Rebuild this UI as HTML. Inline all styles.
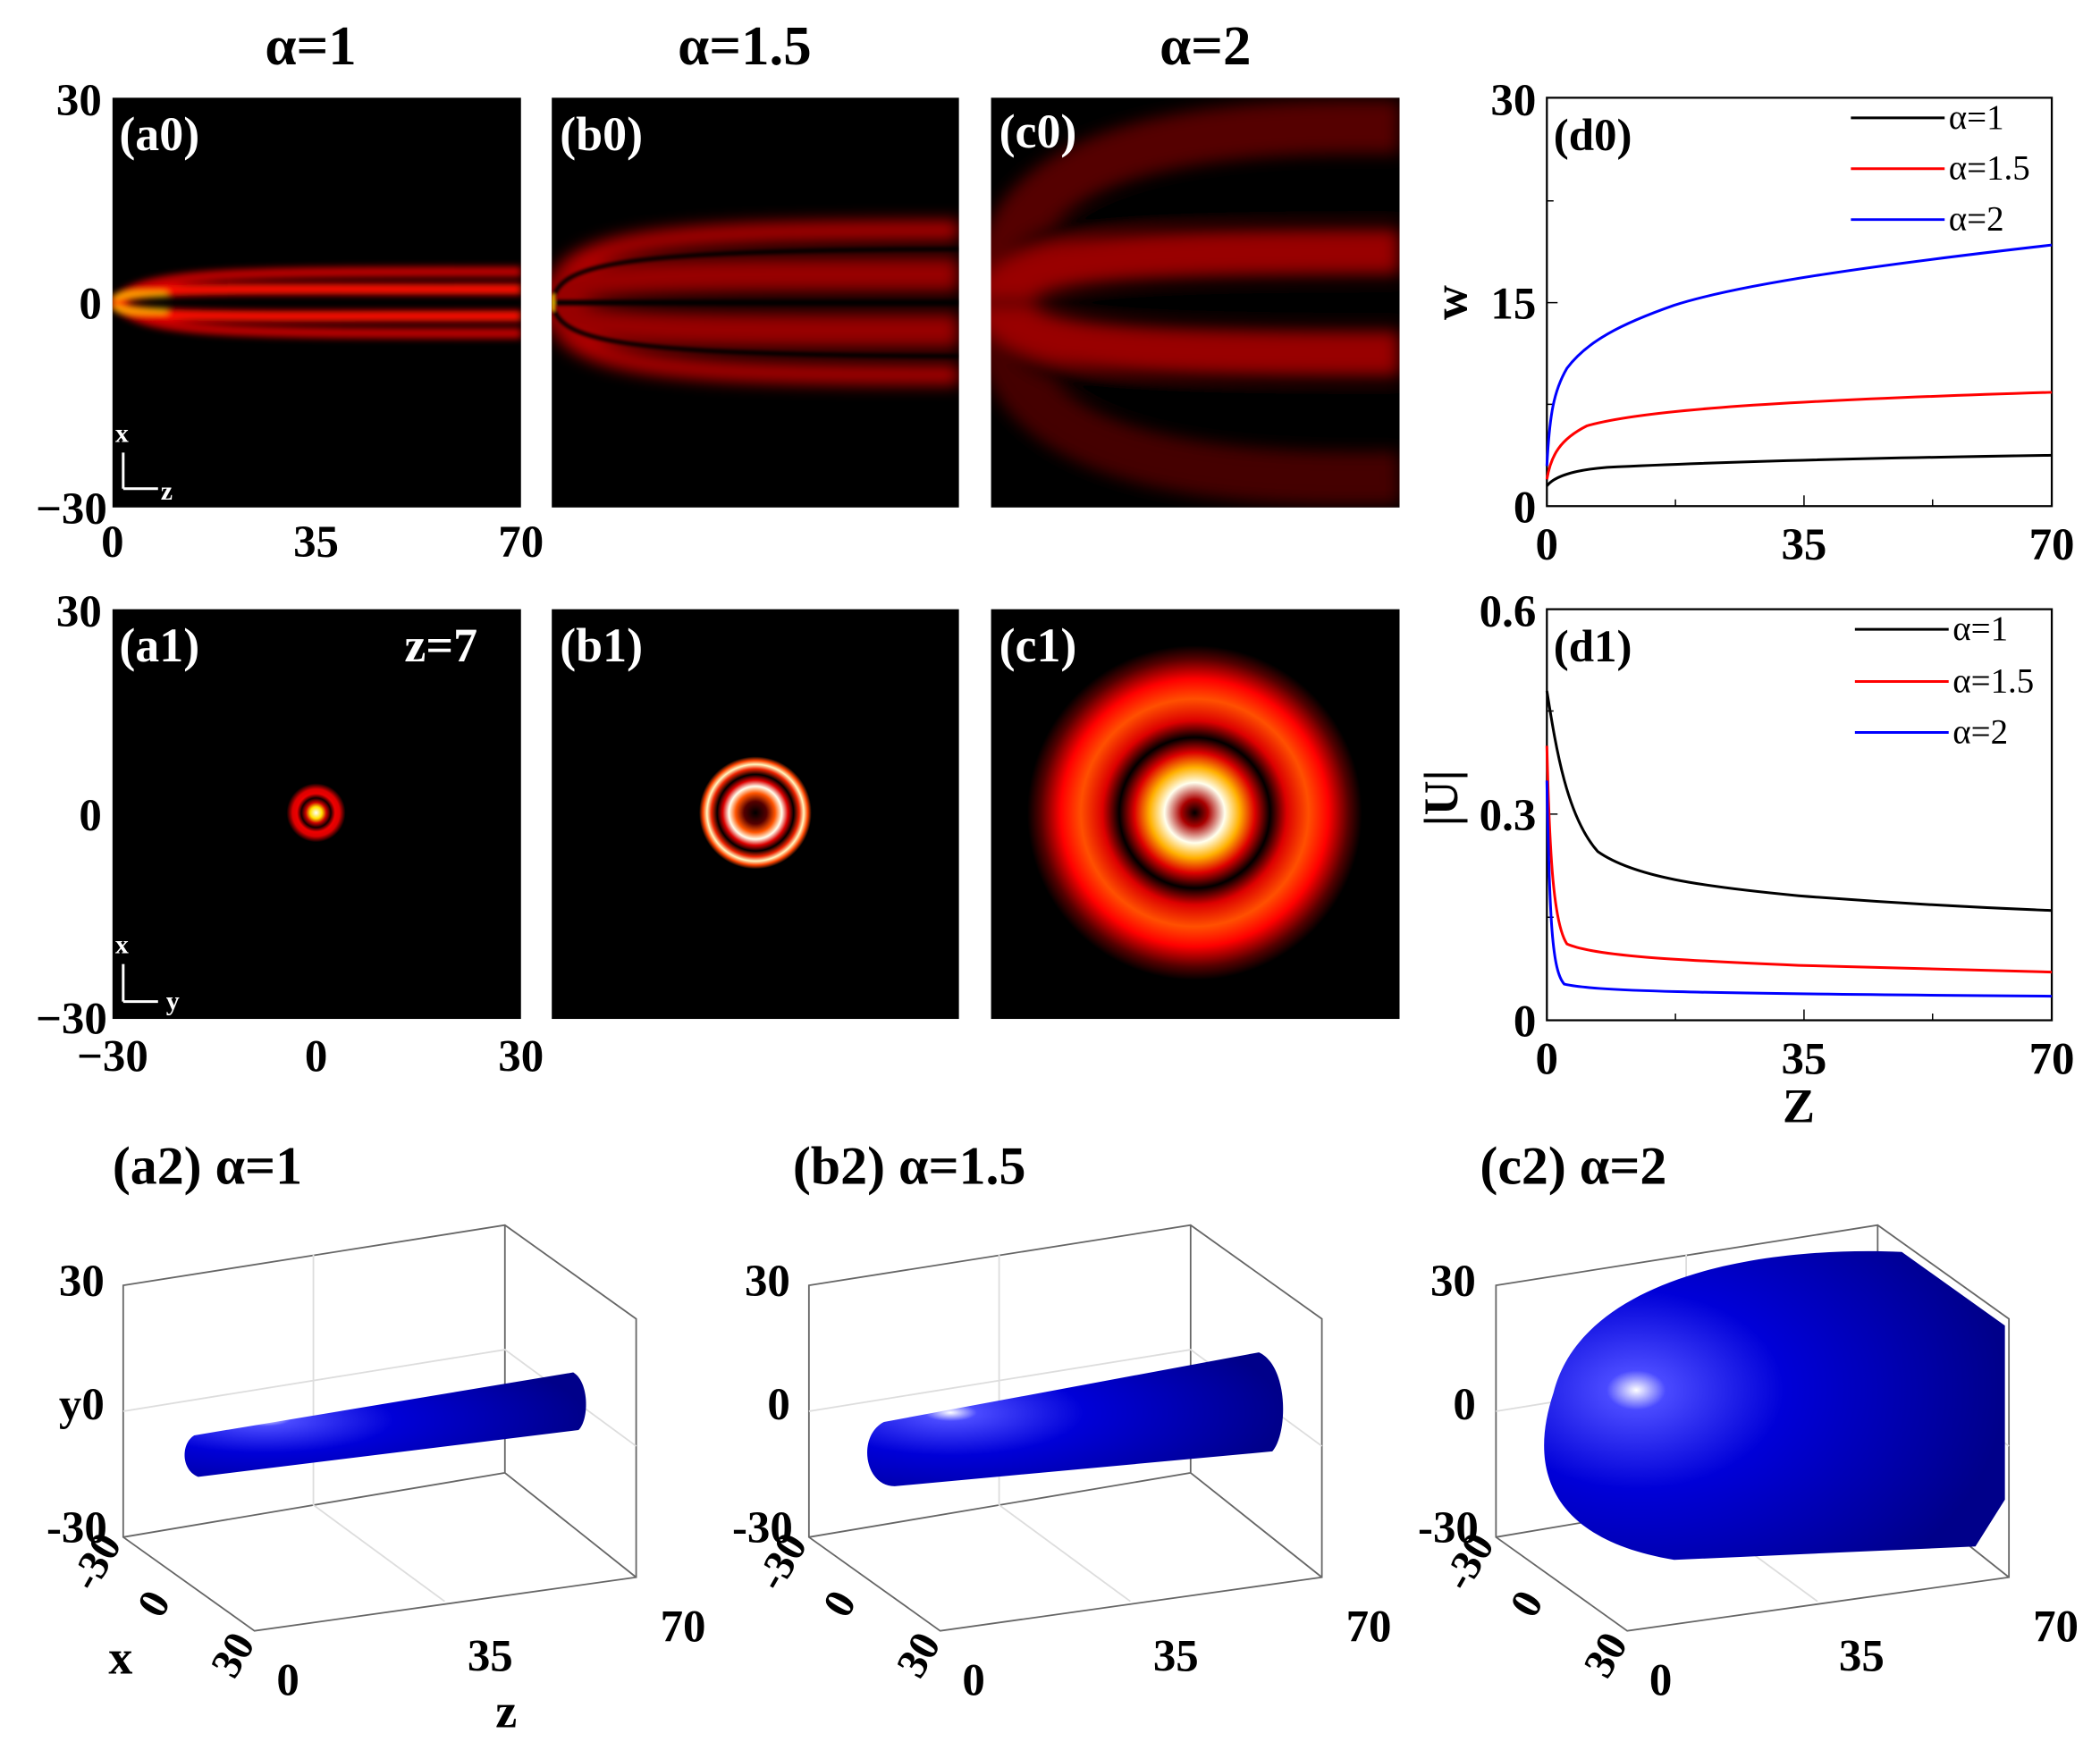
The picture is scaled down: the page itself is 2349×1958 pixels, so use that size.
<!DOCTYPE html>
<html><head><meta charset="utf-8"><style>
html,body{margin:0;padding:0;background:#fff;}
svg{display:block;}
text{font-family:"Liberation Serif",serif;font-weight:bold;}
</style></head><body>
<svg width="2349" height="1958" viewBox="0 0 1568 1307" xmlns="http://www.w3.org/2000/svg">
<defs>
<filter id="bl" x="-20%" y="-20%" width="140%" height="140%"><feGaussianBlur stdDeviation="2.5"/></filter>
<filter id="bl2" x="-20%" y="-20%" width="140%" height="140%"><feGaussianBlur stdDeviation="6"/></filter>
<filter id="bl3" x="-20%" y="-20%" width="140%" height="140%"><feGaussianBlur stdDeviation="1.2"/></filter>
<clipPath id="ca"><rect x="84" y="73" width="305" height="306"/></clipPath>
<clipPath id="cb"><rect x="412" y="73" width="304" height="306"/></clipPath>
<clipPath id="cc"><rect x="740" y="73" width="305" height="306"/></clipPath>
<radialGradient id="ra" cx="236" cy="607" r="22" gradientUnits="userSpaceOnUse">
<stop offset="0" stop-color="#fff"/><stop offset="0.2" stop-color="#ffe000"/><stop offset="0.35" stop-color="#c00"/><stop offset="0.5" stop-color="#100"/><stop offset="0.65" stop-color="#e00"/><stop offset="0.8" stop-color="#d00"/><stop offset="1" stop-color="#000"/></radialGradient>
<radialGradient id="rb" cx="564" cy="607" r="42" gradientUnits="userSpaceOnUse">
<stop offset="0" stop-color="#000"/><stop offset="0.2" stop-color="#500"/><stop offset="0.35" stop-color="#f50"/><stop offset="0.47" stop-color="#ffe"/><stop offset="0.58" stop-color="#d00"/><stop offset="0.68" stop-color="#000"/><stop offset="0.78" stop-color="#e20"/><stop offset="0.86" stop-color="#fff8c0"/><stop offset="0.93" stop-color="#f40"/><stop offset="1" stop-color="#000"/></radialGradient>
<radialGradient id="rc" cx="892" cy="607" r="125" gradientUnits="userSpaceOnUse">
<stop offset="0" stop-color="#000"/><stop offset="0.08" stop-color="#a00"/><stop offset="0.18" stop-color="#ffe"/><stop offset="0.27" stop-color="#ffb000"/><stop offset="0.36" stop-color="#d00"/><stop offset="0.45" stop-color="#000"/><stop offset="0.55" stop-color="#d00"/><stop offset="0.68" stop-color="#ff5000"/><stop offset="0.8" stop-color="#f00"/><stop offset="0.92" stop-color="#500"/><stop offset="1" stop-color="#000"/></radialGradient>
<radialGradient id="blu" cx="0.2" cy="0.45" r="0.8"><stop offset="0" stop-color="#fff"/><stop offset="0.08" stop-color="#4a4aff"/><stop offset="0.4" stop-color="#0000d8"/><stop offset="1" stop-color="#00008a"/></radialGradient>
</defs>

<text x="232" y="48" font-size="42" text-anchor="middle">α=1</text>
<text x="556" y="48" font-size="42" text-anchor="middle">α=1.5</text>
<text x="900" y="48" font-size="42" text-anchor="middle">α=2</text>

<!-- a0 -->
<rect x="84" y="73" width="305" height="306" fill="#000"/>
<g clip-path="url(#ca)" filter="url(#bl)" fill="none">
<path d="M84,226 C110,204 150,203 389,203" stroke="#b00" stroke-width="8"/>
<path d="M84,226 C110,248 150,249 389,249" stroke="#b00" stroke-width="8"/>
<path d="M84,226 C100,214 140,216 389,216" stroke="#f10" stroke-width="8"/>
<path d="M84,226 C100,238 140,236 389,236" stroke="#f10" stroke-width="8"/>
<path d="M85,223 C92,220 100,219 125,220" stroke="#fc0" stroke-width="3"/>
<path d="M85,229 C92,232 100,233 125,232" stroke="#fc0" stroke-width="3"/>
</g>
<!-- b0 -->
<rect x="412" y="73" width="304" height="306" fill="#000"/>
<g clip-path="url(#cb)" filter="url(#bl2)" fill="none">
<path d="M412,226 C420,180 470,172 716,172" stroke="#b00" stroke-width="14"/>
<path d="M412,226 C420,272 470,280 716,280" stroke="#b00" stroke-width="14"/>
<path d="M412,226 C420,205 470,205 716,205" stroke="#900" stroke-width="26"/>
<path d="M412,226 C420,247 470,247 716,247" stroke="#900" stroke-width="26"/>
</g>
<g clip-path="url(#cb)" fill="none" filter="url(#bl3)">
<path d="M412,226 C418,198 450,187 716,186" stroke="#000" stroke-width="3"/>
<path d="M412,226 C418,254 450,265 716,266" stroke="#000" stroke-width="3"/>
<path d="M412,226 L716,226" stroke="#000" stroke-width="4"/>
<path d="M413,220 L413,232" stroke="#fc0" stroke-width="2"/>
</g>
<!-- c0 -->
<rect x="740" y="73" width="305" height="306" fill="#000"/>
<g clip-path="url(#cc)" filter="url(#bl2)" fill="none">
<path d="M745,226 C745,140 820,90 1045,95" stroke="#500" stroke-width="40"/>
<path d="M745,226 C745,312 820,362 1045,357" stroke="#400" stroke-width="40"/>
<path d="M745,226 C750,175 800,150 1045,150" stroke="#000" stroke-width="14"/>
<path d="M745,226 C750,277 800,302 1045,302" stroke="#000" stroke-width="14"/>
<path d="M745,226 C760,195 800,188 1045,188" stroke="#900" stroke-width="34"/>
<path d="M745,226 C760,257 800,264 1045,264" stroke="#900" stroke-width="34"/>
<path d="M740,226 L1045,226" stroke="#000" stroke-width="6"/>
</g>
<path d="M741,205 L741,247" stroke="#f30" stroke-width="2" filter="url(#bl3)"/>

<rect x="84" y="455" width="305" height="306" fill="#000"/>
<rect x="412" y="455" width="304" height="306" fill="#000"/>
<rect x="740" y="455" width="305" height="306" fill="#000"/>
<circle cx="236" cy="607" r="22" fill="url(#ra)"/>
<circle cx="564" cy="607" r="42" fill="url(#rb)"/>
<circle cx="892" cy="607" r="125" fill="url(#rc)"/>

<g fill="#fff" font-size="36">
<text x="89" y="112">(a0)</text><text x="418" y="112">(b0)</text><text x="746" y="110">(c0)</text>
<text x="89" y="494">(a1)</text><text x="418" y="494">(b1)</text><text x="746" y="494">(c1)</text>
<text x="302" y="494">z=7</text>
</g>
<g stroke="#fff" stroke-width="2" fill="none"><path d="M92,365 V338 M92,365 H118"/><path d="M92,748 V720 M92,748 H118"/></g>
<g fill="#fff" font-size="20"><text x="86" y="330">x</text><text x="120" y="373">z</text><text x="86" y="712">x</text><text x="124" y="754">y</text></g>

<g font-size="34" fill="#000">
<text x="76" y="86" text-anchor="end">30</text><text x="76" y="238" text-anchor="end">0</text><text x="80" y="391" text-anchor="end">−30</text>
<text x="84" y="416" text-anchor="middle">0</text><text x="236" y="416" text-anchor="middle">35</text><text x="389" y="416" text-anchor="middle">70</text>
<text x="76" y="468" text-anchor="end">30</text><text x="76" y="620" text-anchor="end">0</text><text x="80" y="772" text-anchor="end">−30</text>
<text x="84" y="800" text-anchor="middle">−30</text><text x="236" y="800" text-anchor="middle">0</text><text x="389" y="800" text-anchor="middle">30</text>
</g>

<!-- d0 -->
<rect x="1155" y="73" width="377" height="305" fill="none" stroke="#000" stroke-width="1.5"/>
<g stroke="#000" stroke-width="1"><path d="M1155,226 h8 M1155,150 h5 M1155,302 h5 M1347,378 v-8 M1251,378 v-5 M1443,378 v-5"/></g>
<g fill="none" stroke-width="2">
<path d="M1155,348 C1157,310 1160,292 1170,275 C1185,255 1210,242 1250,228 C1300,212 1400,198 1532,183" stroke="#00f"/>
<path d="M1155,358 C1158,340 1165,328 1185,318 C1220,308 1300,300 1532,293" stroke="#f00"/>
<path d="M1155,363 C1160,356 1175,351 1200,349 C1280,345 1400,342 1532,340" stroke="#000"/>
</g>
<g font-size="34"><text x="1147" y="86" text-anchor="end">30</text><text x="1147" y="238" text-anchor="end">15</text><text x="1147" y="390" text-anchor="end">0</text>
<text x="1155" y="418" text-anchor="middle">0</text><text x="1347" y="418" text-anchor="middle">35</text><text x="1532" y="418" text-anchor="middle">70</text>
<text x="1160" y="112">(d0)</text>
<text x="1095" y="226" transform="rotate(-90 1095 226)" text-anchor="middle" font-size="36">w</text></g>
<g font-size="26"><path d="M1382,88 h70" stroke="#000" stroke-width="2"/><text x="1455" y="96" style="font-weight:normal">α=1</text>
<path d="M1382,126 h70" stroke="#f00" stroke-width="2"/><text x="1455" y="134" style="font-weight:normal">α=1.5</text>
<path d="M1382,164 h70" stroke="#00f" stroke-width="2"/><text x="1455" y="172" style="font-weight:normal">α=2</text></g>

<!-- d1 -->
<rect x="1155" y="455" width="377" height="307" fill="none" stroke="#000" stroke-width="1.5"/>
<g stroke="#000" stroke-width="1"><path d="M1155,608 h8 M1155,531 h5 M1155,685 h5 M1347,762 v-8 M1251,762 v-5 M1443,762 v-5"/></g>
<g fill="none" stroke-width="2">
<path d="M1155,516 C1162,560 1170,610 1193,636 C1220,655 1270,662 1343,669 C1420,675 1480,678 1532,680" stroke="#000"/>
<path d="M1155,557 C1157,640 1160,690 1170,705 C1190,714 1250,717 1343,721 C1420,723 1480,725 1532,726" stroke="#f00"/>
<path d="M1155,583 C1157,690 1159,725 1168,735 C1190,740 1250,742 1532,744" stroke="#00f"/>
</g>
<g font-size="34"><text x="1147" y="468" text-anchor="end">0.6</text><text x="1147" y="620" text-anchor="end">0.3</text><text x="1147" y="774" text-anchor="end">0</text>
<text x="1155" y="802" text-anchor="middle">0</text><text x="1347" y="802" text-anchor="middle">35</text><text x="1532" y="802" text-anchor="middle">70</text>
<text x="1343" y="838" text-anchor="middle" font-size="36">Z</text>
<text x="1160" y="494">(d1)</text>
<text x="1088" y="596" transform="rotate(-90 1088 596)" text-anchor="middle" font-size="36">|U|</text></g>
<g font-size="26"><path d="M1385,470 h70" stroke="#000" stroke-width="2"/><text x="1458" y="478" style="font-weight:normal">α=1</text>
<path d="M1385,509 h70" stroke="#f00" stroke-width="2"/><text x="1458" y="517" style="font-weight:normal">α=1.5</text>
<path d="M1385,547 h70" stroke="#00f" stroke-width="2"/><text x="1458" y="555" style="font-weight:normal">α=2</text></g>

<g font-size="40"><text x="84" y="884">(a2) α=1</text><text x="592" y="884">(b2) α=1.5</text><text x="1105" y="884">(c2) α=2</text></g>

<g id="box3d" fill="none" stroke="#666" stroke-width="1.2">
<path d="M92,960 L377,915 L475,985 L475,1178 L190,1218 L92,1148 Z M92,960 L92,1148 M92,1148 L377,1100 L377,915 M377,1100 L475,1178"/>
<path d="M92,1054 L377,1008 L475,1080 M234,937 L234,1124 L332,1196" stroke="#ddd"/>
</g>
<use href="#box3d" x="512"/>
<use href="#box3d" x="1025"/>
<path d="M145,1072 C135,1078 135,1098 148,1103 L432,1068 C440,1060 440,1032 428,1025 Z" fill="url(#blu)"/>
<path d="M660,1062 C640,1072 645,1110 668,1110 L950,1084 C962,1070 962,1020 940,1010 Z" fill="url(#blu)"/>
<path d="M1160,1040 C1180,960 1300,930 1420,935 L1497,990 L1497,1120 L1475,1155 L1250,1165 C1160,1150 1140,1100 1160,1040 Z" fill="url(#blu)"/>
<g font-size="34">
<text x="78" y="968" text-anchor="end">30</text><text x="78" y="1060" text-anchor="end">y0</text><text x="80" y="1152" text-anchor="end">-30</text>
<text x="590" y="968" text-anchor="end">30</text><text x="590" y="1060" text-anchor="end">0</text><text x="592" y="1152" text-anchor="end">-30</text>
<text x="1102" y="968" text-anchor="end">30</text><text x="1102" y="1060" text-anchor="end">0</text><text x="1104" y="1152" text-anchor="end">-30</text>
<text x="215" y="1266" text-anchor="middle">0</text><text x="366" y="1248" text-anchor="middle">35</text><text x="510" y="1226" text-anchor="middle">70</text>
<text x="727" y="1266" text-anchor="middle">0</text><text x="878" y="1248" text-anchor="middle">35</text><text x="1022" y="1226" text-anchor="middle">70</text>
<text x="1240" y="1266" text-anchor="middle">0</text><text x="1390" y="1248" text-anchor="middle">35</text><text x="1535" y="1226" text-anchor="middle">70</text>
<text x="378" y="1290" text-anchor="middle" font-size="36">z</text>
<text x="90" y="1250" text-anchor="middle" font-size="36">x</text>
</g>
<g font-size="32">
<text transform="translate(70,1190) rotate(-60)">-30</text><text transform="translate(120,1210) rotate(-60)">0</text><text transform="translate(175,1255) rotate(-60)">30</text>
<text transform="translate(582,1190) rotate(-60)">-30</text><text transform="translate(632,1210) rotate(-60)">0</text><text transform="translate(687,1255) rotate(-60)">30</text>
<text transform="translate(1095,1190) rotate(-60)">-30</text><text transform="translate(1145,1210) rotate(-60)">0</text><text transform="translate(1200,1255) rotate(-60)">30</text>
</g>
</svg>
</body></html>
